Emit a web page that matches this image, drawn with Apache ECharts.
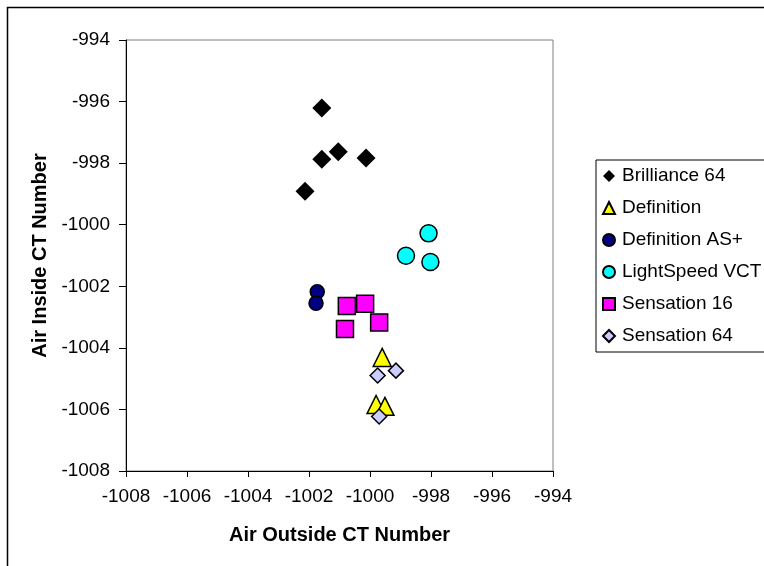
<!DOCTYPE html>
<html>
<head>
<meta charset="utf-8">
<title>Air Inside vs Air Outside CT Number</title>
<script src="https://cdn.jsdelivr.net/npm/echarts@6/dist/echarts.min.js"></script>
<style>
  html, body { margin: 0; padding: 0; background: #fff; }
  #main { width: 764px; height: 566px; }
</style>
</head>
<body>
<div id="main"></div>
<script>
// 扫描仪名称（图例顺序）
var scanners = ['Brilliance 64', 'Definition', 'Definition AS+', 'LightSpeed VCT', 'Sensation 16', 'Sensation 64'];

// 每个扫描仪的 [外部CT值, 内部CT值]
var brilliance64 = [[-1001.58, -996.21], [-1001.04, -997.63], [-1001.58, -997.87], [-1000.13, -997.83], [-1002.13, -998.91]];
var definition = [[-999.60, -1004.31], [-999.80, -1005.84], [-999.51, -1005.90]];
var definitionAS = [[-1001.73, -1002.18], [-1001.77, -1002.55]];
var lightSpeedVCT = [[-998.08, -1000.28], [-998.82, -1001.01], [-998.02, -1001.21]];
var sensation16 = [[-1000.76, -1002.64], [-1000.16, -1002.57], [-999.70, -1003.18], [-1000.82, -1003.39]];
var sensation64 = [[-999.75, -1004.90], [-999.15, -1004.74], [-999.70, -1006.23]];

// 坐标轴范围
var axisMin = -1008;
var axisMax = -994;
var axisStep = 2;

var fontName = 'Liberation Sans';

var chart = echarts.init(document.getElementById('main'), null, { renderer: 'canvas' });

function makeSeries(name, data, symbol, size, color, border) {
  return {
    name: name,
    type: 'scatter',
    data: data,
    symbol: symbol,
    symbolSize: size,
    itemStyle: {
      color: color,
      borderColor: '#000',
      borderWidth: border,
      opacity: 1
    },
    emphasis: { disabled: true }
  };
}

// 刻度不要千分位逗号
function plainNumber(v) {
  return String(v);
}

var option = {
  backgroundColor: '#fff',
  animation: false,
  textStyle: { fontFamily: fontName },
  graphic: [{
    // 外边框
    type: 'rect',
    z: 100,
    shape: { x: 7.5, y: 7.5, width: 800, height: 600 },
    style: { fill: 'none', stroke: '#000', lineWidth: 1.5 }
  }],
  grid: {
    left: 126,
    right: 211,
    top: 40,
    bottom: 95,
    show: true,
    borderColor: '#808080',
    borderWidth: 1,
    backgroundColor: '#fff'
  },
  legend: {
    orient: 'vertical',
    left: 596,
    top: 160,
    padding: [6, 8, 6, 6],
    itemWidth: 12,
    itemHeight: 12,
    itemGap: 12,
    borderColor: '#000',
    borderWidth: 1,
    backgroundColor: '#fff',
    data: scanners,
    textStyle: {
      fontFamily: fontName,
      fontSize: 19,
      lineHeight: 20,
      color: '#000',
      padding: [0, 0, 0, 2]
    }
  },
  xAxis: {
    type: 'value',
    min: axisMin,
    max: axisMax,
    interval: axisStep,
    name: 'Air Outside CT Number',
    nameLocation: 'middle',
    nameGap: 54,
    nameTextStyle: { fontFamily: fontName, fontSize: 20, fontWeight: 'bold', color: '#000' },
    axisLine: { onZero: false, lineStyle: { color: '#000', width: 1 } },
    axisTick: { show: true, inside: false, length: 6, lineStyle: { color: '#000' } },
    axisLabel: { margin: 16, fontFamily: fontName, fontSize: 19, color: '#000', formatter: plainNumber },
    splitLine: { show: false }
  },
  yAxis: {
    type: 'value',
    min: axisMin,
    max: axisMax,
    interval: axisStep,
    name: 'Air Inside CT Number',
    nameLocation: 'middle',
    nameGap: 68,
    nameTextStyle: { fontFamily: fontName, fontSize: 20, fontWeight: 'bold', color: '#000' },
    axisLine: { show: true, onZero: false, lineStyle: { color: '#000', width: 1 } },
    axisTick: { show: true, inside: false, length: 7, lineStyle: { color: '#000' } },
    axisLabel: { margin: 16, fontFamily: fontName, fontSize: 19, color: '#000', formatter: plainNumber },
    splitLine: { show: false }
  },
  series: [
    makeSeries(scanners[0], brilliance64, 'diamond', 19, '#000000', 0),
    makeSeries(scanners[1], definition, 'triangle', 18, '#FFFF00', 1.5),
    makeSeries(scanners[2], definitionAS, 'circle', 14, '#000080', 1.5),
    makeSeries(scanners[3], lightSpeedVCT, 'circle', 17, '#00FFFF', 1.5),
    makeSeries(scanners[4], sensation16, 'rect', 17, '#FF00FF', 1.5),
    makeSeries(scanners[5], sensation64, 'diamond', 15, '#CCCCFF', 1.5)
  ]
};

chart.setOption(option);
</script>
</body>
</html>
